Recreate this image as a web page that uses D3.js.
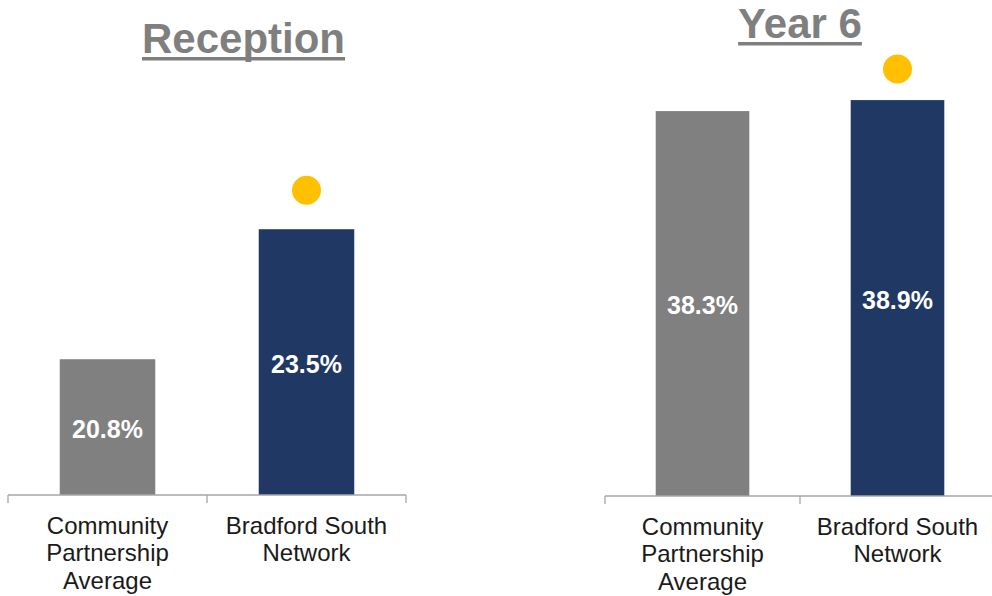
<!DOCTYPE html>
<html>
<head>
<meta charset="utf-8">
<script src="https://cdn.jsdelivr.net/npm/d3@7"></script>
<style>
  body { margin: 0; background: #fff; }
  svg { display: block; font-family: "Liberation Sans", Arial, sans-serif; }
</style>
</head>
<body>
<svg id="chart" width="992" height="596"></svg>
<script>
const categories = [['Community', 'Partnership', 'Average'], ['Bradford South', 'Network']];
const receptionValues = [20.8, 23.5];
const year6Values = [38.3, 38.9];
const markerValues = [24.31, 40.6];   // yellow dot above the network bar
const titles = ['Reception', 'Year 6'];

const svg = d3.select('svg#chart');
const BAR_COLORS = ['#808080', '#203864'];
const DOT_COLOR = '#ffc000';
const TITLE_COLOR = '#7f7f7f';

// each panel: axis extent, baseline, y domain and range (axis does not start at zero)
const panels = [
  { title: titles[0], values: receptionValues, marker: markerValues[0],
    x0: 8, x1: 406, base: 495, yDomain: [17.98, 25], yTop: 157, titleX: 243.5, titleY: 52.5 },
  { title: titles[1], values: year6Values, marker: markerValues[1],
    x0: 605, x1: 995, base: 496, yDomain: [17.3, 41], yTop: 61.6, titleX: 800, titleY: 37.5 }
];

panels.forEach(p => {
  const g = svg.append('g');
  const idx = categories.map((_, i) => i);

  const x = d3.scaleBand()
      .domain(idx)
      .range([p.x0, p.x1])
      .paddingInner(0.52)
      .paddingOuter(0.26);
  const step = x.step();
  const y = d3.scaleLinear().domain(p.yDomain).range([p.base, p.yTop]);

  // title with underline
  const t = g.append('text')
      .attr('x', p.titleX)
      .attr('y', p.titleY)
      .attr('text-anchor', 'middle')
      .attr('font-size', 42)
      .attr('font-weight', 'bold')
      .attr('fill', TITLE_COLOR)
      .text(p.title);
  const tw = t.node().getComputedTextLength();
  g.append('rect')
      .attr('x', p.titleX - tw / 2)
      .attr('y', p.titleY + 4.5)
      .attr('width', tw)
      .attr('height', 3.5)
      .attr('fill', TITLE_COLOR);

  // bars
  g.selectAll('rect.bar')
    .data(p.values)
    .join('rect')
      .attr('class', 'bar')
      .attr('x', (d, i) => x(i))
      .attr('y', d => y(d))
      .attr('width', x.bandwidth())
      .attr('height', d => y(p.yDomain[0]) - y(d))
      .attr('fill', (d, i) => BAR_COLORS[i]);

  // value labels, centred in the bar
  g.selectAll('text.value')
    .data(p.values)
    .join('text')
      .attr('class', 'value')
      .attr('x', (d, i) => x(i) + x.bandwidth() / 2)
      .attr('y', d => (y(d) + y(p.yDomain[0])) / 2)
      .attr('dy', '0.42em')
      .attr('text-anchor', 'middle')
      .attr('font-size', 25)
      .attr('font-weight', 'bold')
      .attr('fill', '#fff')
      .text(d => d.toFixed(1) + '%');

  // yellow marker above the second bar
  g.append('circle')
      .attr('cx', x(1) + x.bandwidth() / 2)
      .attr('cy', y(p.marker))
      .attr('r', 14.5)
      .attr('fill', DOT_COLOR);

  // category axis: baseline with ticks at band boundaries
  const axis = g.append('g').attr('stroke', '#a6a6a6').attr('stroke-width', 1.3);
  axis.append('line')
      .attr('x1', p.x0).attr('x2', p.x1)
      .attr('y1', p.base).attr('y2', p.base);
  axis.selectAll('line.tick')
    .data(d3.range(categories.length + 1))
    .join('line')
      .attr('class', 'tick')
      .attr('x1', i => p.x0 + i * step)
      .attr('x2', i => p.x0 + i * step)
      .attr('y1', p.base)
      .attr('y2', p.base + 8);

  // category labels
  categories.forEach((lines, i) => {
    const lbl = g.append('text')
        .attr('text-anchor', 'middle')
        .attr('font-size', 24)
        .attr('fill', '#1a1a1a');
    lines.forEach((s, j) => {
      lbl.append('tspan')
          .attr('x', x(i) + x.bandwidth() / 2)
          .attr('y', p.base + 39 + j * 27.3)
          .text(s);
    });
  });
});
</script>
</body>
</html>
